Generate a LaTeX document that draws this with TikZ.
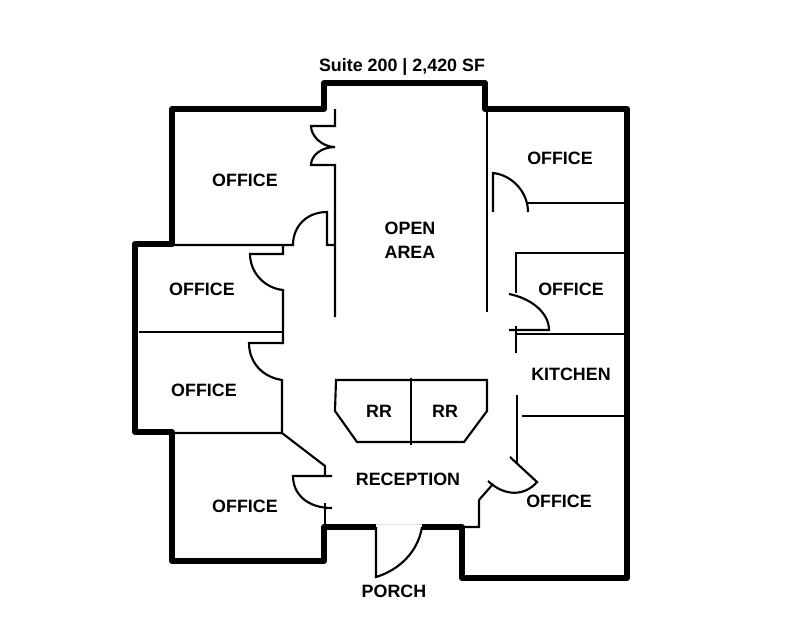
\documentclass[tikz,border=0pt]{standalone}
\usepackage{fontspec}
\setmainfont{Liberation Sans}
\tikzset{
  outerwall/.style={line width=4.5pt, line join=round},
  innerwall/.style={line width=1.6pt},
  roomlabel/.style={font=\fontsize{13.4}{16}\selectfont\bfseries, inner sep=0pt},
}
\begin{document}
\begin{tikzpicture}[x=0.75pt,y=-0.75pt]
  \useasboundingbox (0,0) rectangle (796,637);

  % outer walls
  \draw[outerwall] (422,527) -- (462,527) -- (462,578) -- (627,578) -- (627,109) -- (485,109)
    -- (485,83) -- (324,83) -- (324,109) -- (172,109) -- (172,244) -- (135,244) -- (135,432)
    -- (172,432) -- (172,561) -- (324,561) -- (324,527) -- (376,527);
  \draw[line width=0.4pt, black!12] (376,524) -- (422,524);

  % left side
  \draw[innerwall] (335,109) -- (335,126) -- (311,126) .. controls (311,136) and (322,147) .. (335,147)
    .. controls (322,147) and (311,155) .. (311,165) -- (335,165) -- (335,317);
  \draw[innerwall] (172,245) -- (293,245) .. controls (293,226) and (307,212) .. (327,212) -- (327,245) -- (335,245);
  \draw[innerwall] (283,245) -- (283,254) -- (250,254) .. controls (250,272) and (264,288) .. (283,290) -- (283,344);
  \draw[innerwall] (139,332) -- (283,332);
  \draw[innerwall] (283,343) -- (249,343) .. controls (249,362) and (262,377) .. (282,380) -- (282,433) -- (172,433);
  \draw[innerwall] (282,433) -- (325,466) -- (325,476);
  \draw[innerwall] (332,476) -- (293,476) .. controls (293,494) and (307,508) .. (332,508);
  \draw[innerwall] (325,503) -- (325,527);

  % right side
  \draw[innerwall] (487,109) -- (487,312);
  \draw[innerwall] (493,212) -- (493,173) .. controls (512,175) and (528,192) .. (528,212);
  \draw[innerwall] (528,203) -- (627,203);
  \draw[innerwall] (625,253) -- (516,253) -- (516,293);
  \draw[innerwall] (509,294) .. controls (530,298) and (549,312) .. (549,330) -- (509,330);
  \draw[innerwall] (516,326) -- (516,353);
  \draw[innerwall] (516,334) -- (627,334);
  \draw[innerwall] (517,395) -- (517,463);
  \draw[innerwall] (522,416) -- (627,416);
  \draw[innerwall] (510,457) -- (537,482) .. controls (525,496) and (505,497) .. (488,481);
  \draw[innerwall] (493,484) -- (479,500) -- (479,527) -- (462,527);

  % rest rooms
  \draw[innerwall] (336,380) -- (487,380) -- (487,411) -- (464,442) -- (357,442) -- (335,411) -- cycle;
  \draw[innerwall] (411,378) -- (411,445);

  % porch door
  \draw[innerwall] (376,527) -- (376,577) .. controls (399,570) and (418,552) .. (422,527);

  \node[roomlabel] (title) at (402,67) {Suite 200 | 2,420 SF};
  \node[roomlabel] (officeA) at (245,180) {OFFICE};
  \node[roomlabel] (officeB) at (202,289) {OFFICE};
  \node[roomlabel] (officeC) at (204,390) {OFFICE};
  \node[roomlabel] (officeD) at (245,506) {OFFICE};
  \node[roomlabel] (officeE) at (560,158) {OFFICE};
  \node[roomlabel] (officeF) at (571,289) {OFFICE};
  \node[roomlabel] (officeG) at (559,501) {OFFICE};
  \node[roomlabel] (kitchen) at (571,374) {KITCHEN};
  \node[roomlabel] (open) at (410,228) {OPEN};
  \node[roomlabel] (area) at (410,252) {AREA};
  \node[roomlabel] (rrA) at (379,411) {RR};
  \node[roomlabel] (rrB) at (445,411) {RR};
  \node[roomlabel] (reception) at (408,479) {RECEPTION};
  \node[roomlabel] (porch) at (394,591) {PORCH};
\end{tikzpicture}
\end{document}
